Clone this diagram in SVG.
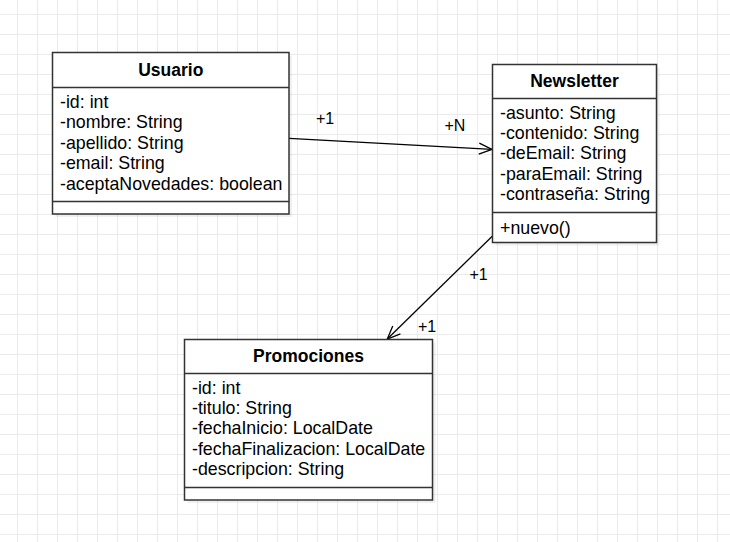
<svg xmlns="http://www.w3.org/2000/svg" width="730" height="542" viewBox="0 0 730 542">
<style>
.box{fill:#fff;stroke:#333;stroke-width:1.5}
.shadow{fill:#000;fill-opacity:0.06}
.sep{stroke:#333;stroke-width:1.5;fill:none}
.t{font-family:"Liberation Sans",Arial,sans-serif;font-size:17.8px;fill:#000}
.title{font-weight:bold;text-anchor:middle;font-size:17.5px}
.lbl{font-family:"Liberation Sans",Arial,sans-serif;font-size:16px;fill:#000}
.edge{stroke:#000;stroke-width:1.3;fill:none}
</style>
<defs>
<pattern id="grid" patternUnits="userSpaceOnUse" x="17" y="14" width="20" height="20">
<path d="M0,0.5 H20 M0.5,0 V20" stroke="#ebebeb" stroke-width="1" fill="none"/>
</pattern>
<marker id="open" markerUnits="userSpaceOnUse" orient="auto" refX="0" refY="0" markerWidth="20" markerHeight="20" overflow="visible">
<path d="M-13,-5.5 L0,0 L-13,5.5" fill="none" stroke="#000" stroke-width="1.3"/>
</marker>
</defs>
<rect width="730" height="542" fill="#fff"/>
<rect width="730" height="542" fill="url(#grid)"/>

<g id="connectors">
<path class="edge" d="M289,138.3 L492,149.3" marker-end="url(#open)"/>
<path class="edge" d="M492.5,236 L387.3,339" marker-end="url(#open)"/>
<text class="lbl" x="316" y="124">+1</text>
<text class="lbl" x="444.5" y="130.5">+N</text>
<text class="lbl" x="469.5" y="280">+1</text>
<text class="lbl" x="418" y="331.5">+1</text>
</g>

<g id="usuario">
<rect class="shadow" x="55.5" y="55.5" width="236.5" height="161.5"/>
<rect class="box" x="52.5" y="52.5" width="236.5" height="161.5"/>
<path class="sep" d="M52.5,87.5 H289 M52.5,201.5 H289"/>
<text class="t title" x="170.75" y="76">Usuario</text>
<text class="t" x="60" y="107.5">-id: int</text>
<text class="t" x="60" y="128">-nombre: String</text>
<text class="t" x="60" y="148.5">-apellido: String</text>
<text class="t" x="60" y="169">-email: String</text>
<text class="t" x="60" y="189.5">-aceptaNovedades: boolean</text>
</g>

<g id="newsletter">
<rect class="shadow" x="495.5" y="67.5" width="164" height="178"/>
<rect class="box" x="492.5" y="64.5" width="164" height="178"/>
<path class="sep" d="M492.5,98.5 H656.5 M492.5,212.5 H656.5"/>
<text class="t title" x="574.5" y="87">Newsletter</text>
<text class="t" x="500" y="119">-asunto: String</text>
<text class="t" x="500" y="139.2">-contenido: String</text>
<text class="t" x="500" y="159.4">-deEmail: String</text>
<text class="t" x="500" y="179.6">-paraEmail: String</text>
<text class="t" x="500" y="199.8">-contraseña: String</text>
<text class="t" x="500" y="233.5">+nuevo()</text>
</g>

<g id="promociones">
<rect class="shadow" x="187.5" y="342.5" width="248" height="160.5"/>
<rect class="box" x="184.5" y="339.5" width="248" height="160.5"/>
<path class="sep" d="M184.5,373.5 H432.5 M184.5,487.5 H432.5"/>
<text class="t title" x="308.5" y="362">Promociones</text>
<text class="t" x="192" y="394">-id: int</text>
<text class="t" x="192" y="414.2">-titulo: String</text>
<text class="t" x="192" y="434.4">-fechaInicio: LocalDate</text>
<text class="t" x="192" y="454.6">-fechaFinalizacion: LocalDate</text>
<text class="t" x="192" y="474.8">-descripcion: String</text>
</g>
</svg>
